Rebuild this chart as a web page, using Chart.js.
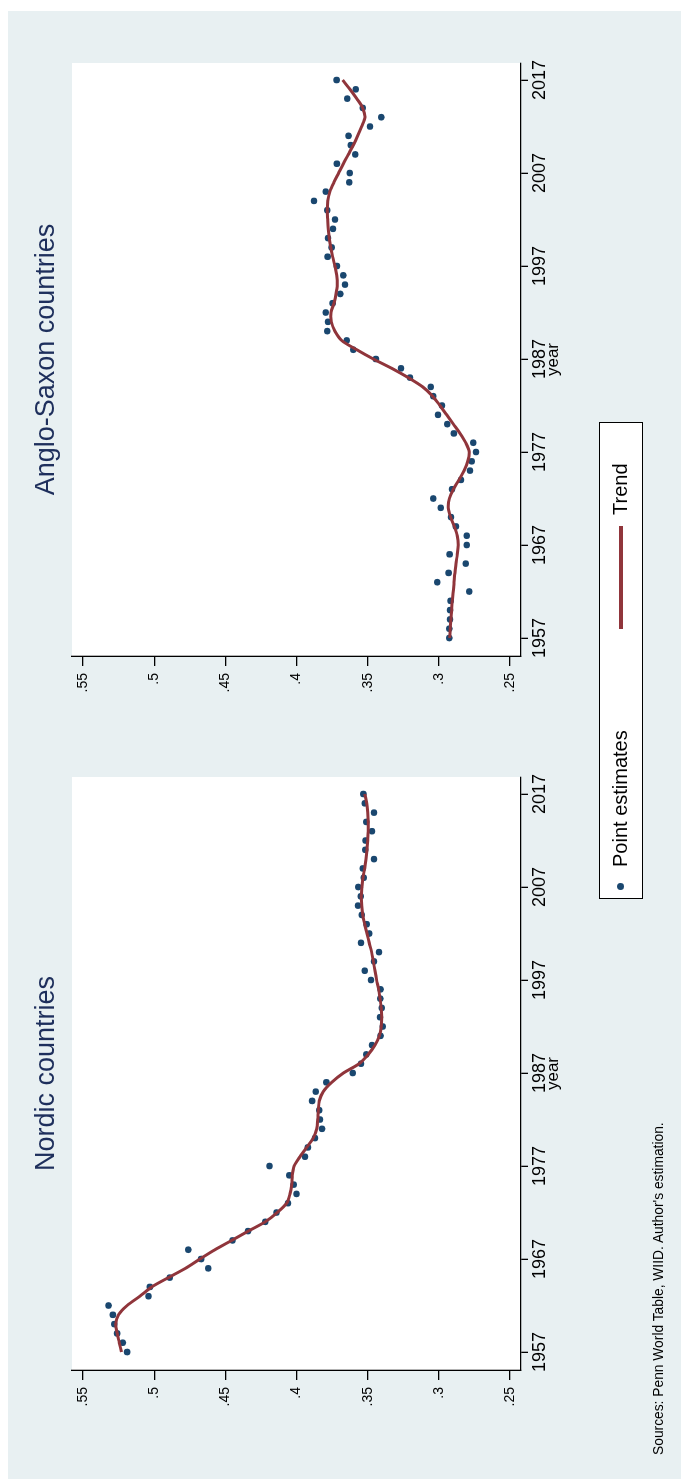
<!DOCTYPE html>
<html>
<head>
<meta charset="utf-8">
<script src="https://cdn.jsdelivr.net/npm/chart.js@4.4.1/dist/chart.umd.min.js"></script>
<style>
  html, body { margin:0; padding:0; background:#fff; }
  body { width:681px; height:1479px; overflow:hidden; position:relative; font-family:"Liberation Sans", Arial, sans-serif; }
  /* the whole graph is laid out landscape, then turned a quarter */
  #land { position:absolute; left:0; top:0; width:1479px; height:681px; transform-origin:0 0; transform:translate(0px,1479px) rotate(-90deg); }
  #bg { position:absolute; left:0; top:8px; width:1468px; height:673px; background:#e8f0f2; }
  .panel { position:absolute; top:0; width:760px; height:681px; }
  #legend { position:absolute; left:580px; top:599px; width:477px; height:44px; box-sizing:border-box; border:1.5px solid #000; background:#fff; }
  #legend .dot { position:absolute; left:8px; top:17px; width:7px; height:7px; border-radius:50%; background:#1a476f; }
  #legend .txt { position:absolute; top:8px; font-size:20px; line-height:24px; color:#000; }
  #legend .ln { position:absolute; left:269px; top:19px; width:103px; height:4px; background:#90353b; }
  #note { position:absolute; left:24px; top:651px; font-size:13.8px; color:#000; white-space:nowrap; }
</style>
</head>
<body>
<div id="land">
  <div id="bg"></div>
  <div class="panel" style="left:0"><canvas id="nordic"></canvas></div>
  <div class="panel" style="left:714px"><canvas id="anglo"></canvas></div>
  <div id="legend">
    <div class="dot"></div>
    <div class="txt" style="left:31px">Point estimates</div>
    <div class="ln"></div>
    <div class="txt" style="left:383px">Trend</div>
  </div>
  <div id="note">Sources: Penn World Table, WIID. Author's estimation.</div>
</div>
<script>
const years = [1957,1958,1959,1960,1961,1962,1963,1964,1965,1966,
  1967,1968,1969,1970,1971,1972,1973,1974,1975,1976,
  1977,1978,1979,1980,1981,1982,1983,1984,1985,1986,
  1987,1988,1989,1990,1991,1992,1993,1994,1995,1996,
  1997,1998,1999,2000,2001,2002,2003,2004,2005,2006,
  2007,2008,2009,2010,2011,2012,2013,2014,2015,2016,2017];

const nordicPoints = [.519,.522,.526,.528,.529,.532,.504,.503,.489,.462,
  .467,.476,.445,.434,.422,.414,.406,.400,.402,.405,
  .419,.394,.392,.387,.382,.3835,.384,.389,.3865,.379,
  .3605,.3547,.351,.347,.3409,.3394,.3413,.3401,.3411,.3409,
  .3477,.3521,.3456,.342,.3547,.3489,.3507,.3542,.3568,.3549,
  .3566,.3528,.3535,.3456,.3517,.3514,.347,.351,.3456,.352,.353];

const nordicTrend = [.523,.5245,.526,.527,.525,.519,.510,.5017,.490,.478,
  .4678,.4573,.4455,.4339,.422,.4135,.4069,.4046,.4034,.403,
  .4016,.3975,.3929,.3882,.3858,.3851,.3847,.384,.3812,.3753,
  .3671,.356,.3496,.3449,.3418,.3404,.3401,.3404,.3413,.3423,
  .3437,.3449,.346,.3472,.3489,.3505,.3521,.3535,.3542,.3545,
  .354,.3533,.3521,.3512,.3505,.35,.3496,.3496,.35,.3507,.352];

const angloPoints = [.2926,.2926,.2922,.2922,.2917,.2786,.3011,.2931,.2811,.2924,
  .2804,.2804,.288,.2915,.2987,.3039,.2908,.2844,.2781,.2769,
  .2739,.2758,.2894,.2941,.3006,.2978,.3039,.3057,.3203,.3266,
  .3442,.3601,.3647,.3784,.3779,.3795,.3746,.3692,.3659,.3671,
  .3716,.3781,.3753,.3779,.3744,.373,.3784,.3877,.3795,.3629,
  .3626,.3716,.3587,.3619,.3634,.3484,.3404,.3535,.3643,.3584,.3718];

const angloTrend = [.2924,.292,.2915,.291,.2905,.2898,.2894,.2887,.288,.287,
  .2863,.287,.2891,.2917,.2933,.2926,.2898,.2858,.2823,.2797,
  .2786,.2811,.2851,.2898,.2945,.2992,.3043,.3113,.3215,.3331,
  .346,.3577,.3683,.373,.3755,.3757,.3737,.3722,.3713,.3718,
  .373,.3746,.376,.377,.3777,.3781,.3784,.3781,.3765,.3737,
  .3704,.3671,.3636,.3601,.357,.3542,.3519,.3535,.3577,.3624,.3676];

const yearTicks = [1957,1967,1977,1987,1997,2007,2017];
const valueTicks = [.25,.3,.35,.4,.45,.5,.55];

const NAVY = '#1a476f', MAROON = '#90353b';
const FONT = '"Liberation Sans", Arial, sans-serif';

// white plot region behind the marks
const plotFill = {
  id:'plotFill',
  beforeDraw(chart){
    const a = chart.chartArea, c = chart.ctx;
    c.save(); c.fillStyle = '#fff';
    c.fillRect(a.left, a.top, a.right-a.left, a.bottom-a.top);
    c.restore();
  }
};

function makePanel(id, title, pts, trend){
  const ctx = document.getElementById(id);
  ctx.width = 760; ctx.height = 681;
  return new Chart(ctx, {
    type:'scatter',
    data:{ datasets:[
      { label:'Trend', type:'line', data: years.map((y,i)=>({x:y, y:trend[i]})),
        borderColor:MAROON, borderWidth:3, pointRadius:0, tension:0.3, fill:false, order:0 },
      { label:'Point estimates', data: years.map((y,i)=>({x:y, y:pts[i]})),
        backgroundColor:NAVY, borderWidth:0, pointRadius:3.3, order:1 }
    ]},
    options:{
      responsive:false, animation:false, devicePixelRatio:1,
      layout:{ padding:{ left:0, right:58, top:0, bottom:0 } },
      plugins:{
        legend:{ display:false }, tooltip:{ enabled:false },
        title:{ display:true, text:title, fullSize:false, color:'#1e2f5c',
          font:{ family:FONT, size:27, weight:'normal' }, padding:{ top:30, bottom:9.6 } }
      },
      scales:{
        x:{ type:'linear', min:1955.065, max:2018.83,
          afterBuildTicks: s => { s.ticks = yearTicks.map(v=>({value:v})); },
          afterFit: s => { s.height = 160; },
          ticks:{ color:'#000', padding:1, maxRotation:0, font:{ family:FONT, size:18 }, callback: v => String(v) },
          grid:{ drawOnChartArea:false, tickLength:7, color:'#000', lineWidth:1.3 },
          border:{ display:true, color:'#000', width:1.3 },
          title:{ display:true, text:'year', color:'#000', font:{ family:FONT, size:17 }, padding:{ top:0, bottom:117 } }
        },
        y:{ type:'linear', min:0.24227, max:0.55773,
          afterBuildTicks: s => { s.ticks = valueTicks.map(v=>({value:v})); },
          afterFit: s => { s.width = 109; },
          ticks:{ color:'#000', padding:7, font:{ family:FONT, size:14 }, callback: v => String(v).replace(/^0/, '') },
          grid:{ drawOnChartArea:false, tickLength:10, color:'#000', lineWidth:1.3 },
          border:{ display:true, color:'#000', width:1.3 }
        }
      }
    },
    plugins:[plotFill]
  });
}

makePanel('nordic', 'Nordic countries', nordicPoints, nordicTrend);
makePanel('anglo', 'Anglo-Saxon countries', angloPoints, angloTrend);
</script>
</body>
</html>
